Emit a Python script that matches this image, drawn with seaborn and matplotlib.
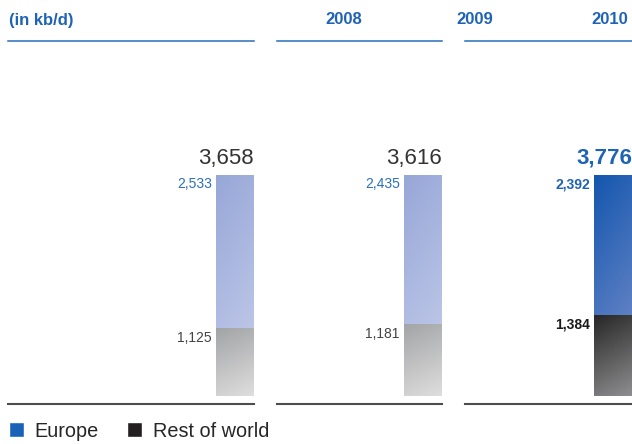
import matplotlib.pyplot as plt
import seaborn as sns
import numpy as np
import pandas as pd
from matplotlib.colors import LinearSegmentedColormap
from matplotlib.patches import Patch

sns.set_style('white')
plt.rcParams['font.family'] = ['Liberation Sans', 'DejaVu Sans']

# data (kb/d)
years = ['2008', '2009', '2010']
europe = [2533, 2435, 2392]
rest_of_world = [1125, 1181, 1384]

df = pd.DataFrame({'year': years, 'europe': europe, 'rest': rest_of_world})
df['total'] = df['europe'] + df['rest']
df['rest_share'] = df['rest'] / df['total']
df['full'] = 1.0

W, H = 632, 444
BLUE = '#1f63b5'
LABEL_BLUE = '#2a6ebb'

# panel spans in pixels (left, right)
panels = [(8, 254), (277, 442), (465, 632)]
y_top, y_bot = 41, 404
PX_PER_UNIT_X = 47.5  # bar width 0.8 -> 38 px

grad_light_eu = LinearSegmentedColormap.from_list('leu', ['#97a7d7', '#c7cfec'])
grad_light_rw = LinearSegmentedColormap.from_list('lrw', ['#a3a4a6', '#dedede'])
grad_dark_eu = LinearSegmentedColormap.from_list('deu', ['#1456ae', '#7d92cd'])
grad_dark_rw = LinearSegmentedColormap.from_list('drw', ['#262626', '#8e8e90'])


def fill_gradient(ax, patch, cmap):
    x0, y0 = patch.get_x(), patch.get_y()
    w, h = patch.get_width(), patch.get_height()
    yy, xx = np.mgrid[0:1:100j, 0:1:30j]
    # row 0 is the top of the bar: dark at top-left, light at bottom-right
    t = 0.8 * (1 - yy) + 0.2 * (1 - xx)
    im = ax.imshow(1 - t, cmap=cmap, extent=(x0, x0 + w, y0, y0 + h), aspect='auto',
                   origin='upper', vmin=0, vmax=1, zorder=3)
    im.set_clip_path(patch)
    patch.set_alpha(0)


fig = plt.figure(figsize=(W / 100, H / 100), dpi=100)

for i, (row, (x0, x1)) in enumerate(zip(df.itertuples(), panels)):
    ax = fig.add_axes([x0 / W, 1 - y_bot / H, (x1 - x0) / W, (y_bot - y_top) / H])
    sub = df.iloc[[i]]
    last = i == len(df) - 1
    sns.barplot(data=sub, x='year', y='full', color='#9aa9d8', width=0.8, ax=ax, zorder=2)
    sns.barplot(data=sub, x='year', y='rest_share', color='#aaaaaa', width=0.8, ax=ax, zorder=2)
    p_eu, p_rw = ax.patches[0], ax.patches[1]
    fill_gradient(ax, p_eu, grad_dark_eu if last else grad_light_eu)
    fill_gradient(ax, p_rw, grad_dark_rw if last else grad_light_rw)

    width_units = (x1 - x0) / PX_PER_UNIT_X
    ax.set_xlim(0.4 - width_units, 0.4)
    ax.set_ylim(-8 / 221, 355 / 221)
    ax.set_xticks([])
    ax.set_yticks([])
    ax.set_xlabel('')
    ax.set_ylabel('')
    for s in ['left', 'right']:
        ax.spines[s].set_visible(False)
    ax.spines['top'].set_color(LABEL_BLUE)
    ax.spines['top'].set_linewidth(1.1)
    ax.spines['bottom'].set_color('#4d4d4d')
    ax.spines['bottom'].set_linewidth(1.5)

    weight = 'bold' if last else 'normal'
    ax.annotate(f'{row.total:,}', (0.4, 1.0), xytext=(0, 8), textcoords='offset points',
                ha='right', va='baseline', fontsize=16, fontweight=weight,
                color=BLUE if last else '#333333')
    ax.annotate(f'{row.europe:,}', (-0.4, 1.0), xytext=(-3, -1.5), textcoords='offset points',
                ha='right', va='top', fontsize=10, fontweight=weight, color=LABEL_BLUE if not last else BLUE)
    ax.annotate(f'{row.rest:,}', (-0.4, row.rest_share), xytext=(-3, -2), textcoords='offset points',
                ha='right', va='top', fontsize=10, fontweight=weight,
                color='#1a1a1a' if last else '#444444')

# header row
hdr = dict(fontsize=12, fontweight='bold', color=BLUE, va='center')
fig.text(9 / W, 1 - 20 / H, '(in kb/d)', ha='left', **hdr)
fig.text(362 / W, 1 - 20 / H, years[0], ha='right', **hdr)
fig.text(456 / W, 1 - 20 / H, years[1], ha='left', **hdr)
fig.text(628 / W, 1 - 20 / H, years[2], ha='right', **hdr)

handles = [Patch(facecolor='#1a62b8', label='Europe'),
           Patch(facecolor='#231f20', label='Rest of world')]
fig.legend(handles=handles, loc='center left', bbox_to_anchor=(9 / W, 1 - 431 / H),
           ncol=2, frameon=False, fontsize=14.3, handlelength=0.75, handleheight=0.75,
           handletextpad=0.55, columnspacing=1.4, borderpad=0, borderaxespad=0)

fig.savefig('out.png', dpi=100)
